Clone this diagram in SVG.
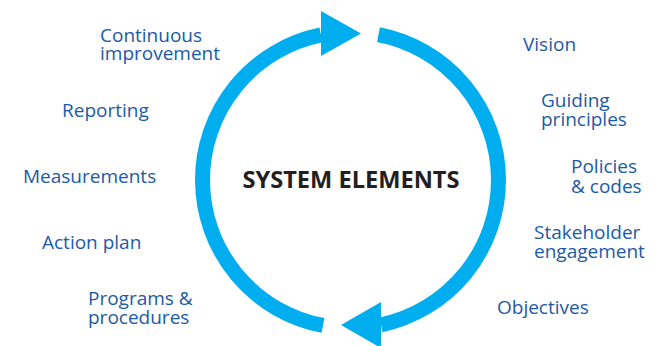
<svg xmlns="http://www.w3.org/2000/svg" width="665" height="346" viewBox="0 0 665 346">
<style>
.ring{fill:none;stroke:#00aeef;stroke-width:15;stroke-linecap:butt}
.head{fill:#00aeef}
.lbl{font-family:"Open Sans","Noto Sans","Liberation Sans",sans-serif;font-size:19px;fill:#1b5aa6}
.title{font-family:"Open Sans","Noto Sans","Liberation Sans",sans-serif;font-size:23.6px;font-weight:bold;fill:#231f20}
</style>
<rect width="665" height="346" fill="#ffffff"/>
<g id="connectors">
<path class="ring" d="M323,325.42 A148,148 0 0 1 321,34.97"/>
<polygon class="head" points="321,11 361,33.5 321,56"/>
<path class="ring" d="M378.5,34.67 A148,148 0 0 1 381,324.82"/>
<polygon class="head" points="381,302 341,325 381,348"/>
</g>
<g id="center"><text class="title" x="351" y="188" text-anchor="middle">SYSTEM ELEMENTS</text></g>
<g id="continuous-improvement"><text class="lbl" x="100" y="42">Continuous</text><text class="lbl" x="100" y="60">improvement</text></g>
<g id="reporting"><text class="lbl" x="62" y="117">Reporting</text></g>
<g id="measurements"><text class="lbl" x="23" y="183">Measurements</text></g>
<g id="action-plan"><text class="lbl" x="42" y="249">Action plan</text></g>
<g id="programs"><text class="lbl" x="88" y="305">Programs &amp;</text><text class="lbl" x="88" y="324">procedures</text></g>
<g id="vision"><text class="lbl" x="523" y="51">Vision</text></g>
<g id="guiding"><text class="lbl" x="541" y="107">Guiding</text><text class="lbl" x="541" y="126">principles</text></g>
<g id="policies"><text class="lbl" x="571" y="173">Policies</text><text class="lbl" x="571" y="193">&amp; codes</text></g>
<g id="stakeholder"><text class="lbl" x="534" y="239">Stakeholder</text><text class="lbl" x="534" y="258">engagement</text></g>
<g id="objectives"><text class="lbl" x="497" y="314">Objectives</text></g>
</svg>
